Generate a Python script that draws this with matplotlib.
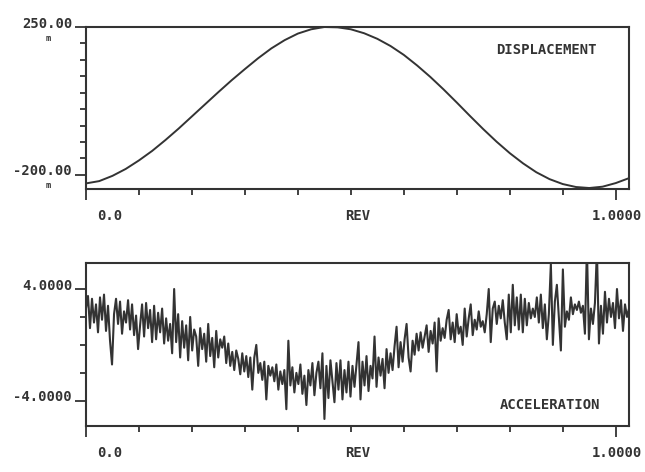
import numpy as np
import matplotlib
matplotlib.use("Agg")
import matplotlib.pyplot as plt
from matplotlib.ticker import MultipleLocator

### donnees lues sur le trace
# deplacement (pas de 0.025 en REV)
rev_disp = np.linspace(0, 1.025, 42)
displacement = [-226, -219, -203, -182, -156, -127, -94, -59, -22, 15,
                52, 88, 122, 155, 185, 210, 230, 243, 250, 249,
                243, 231, 214, 192, 165, 133, 98, 60, 20, -21,
                -61, -99, -134, -165, -192, -213, -228, -237, -240, -236,
                -225, -210]

# acceleration (272 points sur 0 -> 1.025 REV)
acceleration = [
    2.6, 3.5, 1.2, 3.3, 1.6, 2.9, 0.9, 3.4, 1.8, 3.6, 1.0, 2.8, 0.3, -1.4, 2.2, 3.3, 1.5,
    3.1, 0.8, 2.4, 1.6, 3.2, 1.1, 2.9, 0.7, 2.1, -0.3, 1.4, 2.9, 0.6, 3.0, 1.2, 2.5, 0.2,
    2.8, 0.4, 2.3, 0.9, 2.6, 0.1, 1.9, 0.3, 1.5, -0.6, 4.0, 0.2, 2.2, -0.9, 1.7, -0.2, 1.4,
    -1.1, 2.0, -0.4, 1.1, 0.6, -1.5, 1.2, -0.3, 0.8, -1.2, 1.5, -0.8, 0.5, -1.6, 1.0, -0.9, 0.4,
    -0.2, 0.6, -1.3, 0.1, -1.5, -0.5, -1.8, -0.4, -1.0, -2.1, -0.6, -1.9, -0.8, -2.3, -0.9, -3.2, -0.9,
    0.0, -2.0, -1.3, -2.5, -1.2, -3.9, -1.5, -2.2, -1.6, -2.6, -1.4, -3.2, -1.9, -2.8, -1.8, -4.6, 0.3,
    -2.9, -1.6, -3.4, -2.0, -2.8, -1.4, -3.5, -2.2, -4.3, -1.8, -2.9, -1.3, -3.6, -2.0, -1.2, -3.1, -0.6,
    -5.3, -1.5, -3.8, -1.1, -2.6, -4.1, -1.3, -3.2, -1.1, -3.9, -1.8, -3.4, -1.2, -3.7, -1.5, -3.0, -1.4,
    0.2, -3.9, -1.2, -2.9, -0.8, -3.3, -1.5, -2.4, 0.6, -3.0, -0.9, -2.2, -1.0, -3.1, -0.3, -2.0, -0.6,
    -1.8, -0.1, 1.3, -1.6, 0.2, -1.2, 0.4, 1.5, -0.9, -1.9, 0.3, -0.7, 0.8, -0.4, 0.9, -0.2, 0.6,
    1.4, -0.5, 1.0, 0.1, 1.6, -1.9, 1.9, 0.3, 1.2, 0.5, 1.8, 2.5, 0.4, 1.6, 0.2, 2.2, 0.8,
    1.3, 0.0, 2.6, 0.6, 1.9, 2.9, 0.7, 1.8, 1.1, 2.4, 1.3, 1.7, 0.9, 2.2, 4.0, 0.2, 2.6,
    3.1, 1.5, 2.8, 1.9, 3.2, 1.6, 0.4, 3.6, 0.9, 4.3, 1.4, 3.4, 1.1, 3.6, 0.9, 3.3, 1.4,
    3.0, 1.9, 2.6, 2.0, 3.4, 1.6, 3.6, 1.2, 2.9, 0.4, 2.2, 5.8, 0.0, 3.1, 4.3, 2.0, -0.4,
    5.4, 1.3, 2.4, 1.8, 3.4, 2.2, 2.9, 2.5, 3.1, 2.3, 2.8, 0.8, 7.0, 0.4, 2.6, 1.5, 3.0,
    6.8, 0.1, 2.8, 0.8, 3.8, 1.6, 3.3, 2.0, 3.0, 1.2, 4.0, 1.9, 3.2, 1.0, 2.9, 2.0, 2.6,
]
rev_acc = np.linspace(0, 1.025, len(acceleration))

disp_ticks = [-200, 250]
disp_labels = ['-200.00', '250.00']
acc_ticks = [-4, 4]
acc_labels = ['-4.0000', '4.0000']
x_labels = ['0.0', 'REV', '1.0000']

###############################################################################
ink = '#333333'
mono = dict(family='DejaVu Sans Mono', weight='bold', color=ink, fontsize=10)

fig = plt.figure(figsize=(6.45, 4.72), dpi=100, facecolor='white')
ax1 = fig.add_axes([0.1333, 0.5996, 0.8419, 0.3432])
ax2 = fig.add_axes([0.1333, 0.0975, 0.8419, 0.3453])

ax1.plot(rev_disp, displacement, color=ink, lw=1.4)
ax2.plot(rev_acc, acceleration, color=ink, lw=1.5)

ax1.set_xlim(0, 1.025)
ax1.set_ylim(-243, 250)
ax2.set_xlim(0, 1.025)
ax2.set_ylim(-5.8, 5.86)

def style(ax, yticks, ystep, ylabels, with_unit):
    for sp in ax.spines.values():
        sp.set_color(ink)
        sp.set_linewidth(1.5)
    ax.set_xticks([0, 1])
    ax.xaxis.set_minor_locator(MultipleLocator(0.1))
    ax.set_yticks(yticks)
    ax.yaxis.set_minor_locator(MultipleLocator(ystep))
    ax.set_xticklabels([])
    ax.set_yticklabels([])
    ax.tick_params(which='major', direction='out', length=8, width=1.3, color=ink)
    ax.tick_params(which='minor', direction='out', length=4, width=1.3, color=ink)
    ax.tick_params(axis='y', which='minor', length=4.5)
    # etiquettes de l'axe y (au-dessus du trait de graduation)
    for v, lab in zip(yticks, ylabels):
        ax.annotate(lab, xy=(0, v), xycoords=('axes fraction', 'data'),
                    xytext=(-10, 2.5), textcoords='offset points',
                    ha='right', va='center', **mono)
        if with_unit:
            ax.annotate('m', xy=(0, v), xycoords=('axes fraction', 'data'),
                        xytext=(-27, -8), textcoords='offset points',
                        ha='center', va='center', family='DejaVu Sans Mono',
                        weight='bold', color=ink, fontsize=6)
    # etiquettes de l'axe x
    ax.annotate(x_labels[0], xy=(0, 0), xycoords=('data', 'axes fraction'),
                xytext=(17, -19.5), textcoords='offset points',
                ha='center', va='center', **mono)
    ax.annotate(x_labels[1], xy=(0.5, 0), xycoords='axes fraction',
                xytext=(0, -19.5), textcoords='offset points',
                ha='center', va='center', **mono)
    ax.annotate(x_labels[2], xy=(1, 0), xycoords=('data', 'axes fraction'),
                xytext=(1, -19.5), textcoords='offset points',
                ha='center', va='center', **mono)

style(ax1, disp_ticks, 50, disp_labels, True)
style(ax2, acc_ticks, 2, acc_labels, False)

ax1.text(0.847, 0.858, 'DISPLACEMENT', transform=ax1.transAxes,
         ha='center', va='center', **mono)
ax2.text(0.855, 0.129, 'ACCELERATION', transform=ax2.transAxes,
         ha='center', va='center', **mono)

fig.savefig('out.png', dpi=100, facecolor='white')
